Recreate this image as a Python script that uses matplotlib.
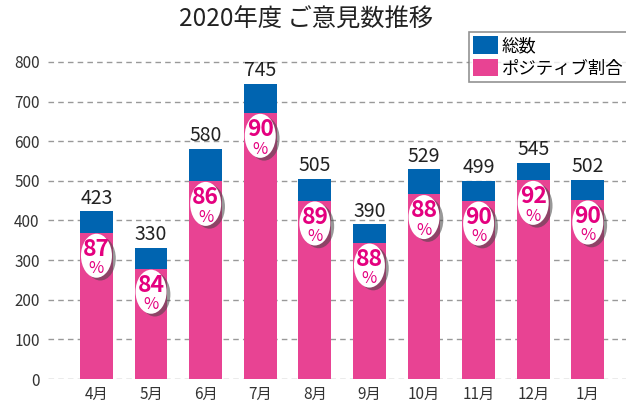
import matplotlib
matplotlib.use("Agg")
import matplotlib.pyplot as plt
from matplotlib.patches import Ellipse, Patch

plt.rcParams['font.family'] = ['Noto Sans CJK JP', 'DejaVu Sans']

months = ['4月', '5月', '6月', '7月', '8月', '9月', '10月', '11月', '12月', '1月']
totals = [423, 330, 580, 745, 505, 390, 529, 499, 545, 502]
positive_pct = [87, 84, 86, 90, 89, 88, 88, 90, 92, 90]
y_ticks = [0, 100, 200, 300, 400, 500, 600, 700, 800]

BLUE = '#0064B0'
PINK = '#E84393'
TXT_PINK = '#E4007F'

W, H = 626, 405
fig = plt.figure(figsize=(W / 100, H / 100), dpi=100)
ax = fig.add_axes([48 / W, 26 / H, 578 / W, 325 / H])

x = list(range(len(months)))
positives = [t * p / 100 for t, p in zip(totals, positive_pct)]

ax.bar(x, totals, width=0.6, color=BLUE, zorder=2)
ax.bar(x, positives, width=0.6, color=PINK, zorder=3)

ax.set_xlim(-0.888, 9.70)
ax.set_ylim(0, 820)
ax.set_yticks(y_ticks)
ax.set_xticks(x)
ax.set_xticklabels(months, fontsize=11, color='#333333')
ax.tick_params(axis='y', labelsize=11, colors='#333333', length=0, pad=6)
ax.tick_params(axis='x', length=0, pad=5)
for s in ax.spines.values():
    s.set_visible(False)
ax.yaxis.grid(True, linestyle=(0, (4, 3)), color='#999999', linewidth=1, zorder=0)
ax.set_axisbelow(True)

for xi, t in zip(x, totals):
    ax.annotate(str(t), (xi, t), xytext=(0, 2), textcoords='offset points',
                ha='center', va='bottom', fontsize=14, color='#222222', zorder=5)

ew = 31 / 54.6
eh = 44 / 39.625 * 100
for xi, pv, pc in zip(x, positives, positive_pct):
    cy = pv - 57
    sh = Ellipse((xi + 0.07, cy - 7), ew, eh, facecolor='#444444', alpha=0.55,
                 edgecolor='none', zorder=4)
    ax.add_patch(sh)
    el = Ellipse((xi, cy), ew, eh, facecolor='white', edgecolor='none', zorder=5)
    ax.add_patch(el)
    ax.annotate(str(pc), (xi, cy), xytext=(0, 4.5), textcoords='offset points',
                ha='center', va='center', fontsize=16.5, fontweight='bold',
                color=TXT_PINK, zorder=6)
    ax.annotate('%', (xi, cy), xytext=(0, -9.5), textcoords='offset points',
                ha='center', va='center', fontsize=12,
                color=TXT_PINK, zorder=6)

fig.text(306 / W, 1 - 20 / H, '2020年度 ご意見数推移', ha='center', va='center',
         fontsize=17.5, color='#222222')

handles = [Patch(facecolor=BLUE, edgecolor='none', label='総数'),
           Patch(facecolor=PINK, edgecolor='none', label='ポジティブ割合')]
leg = fig.legend(handles=handles, loc='upper left', bbox_to_anchor=(469 / W, 1 - 32 / H),
                 fontsize=12.5, frameon=True, fancybox=False, edgecolor='#777777',
                 handlelength=1.4, handleheight=1.15, handletextpad=0.25,
                 borderpad=0.25, labelspacing=0.25, borderaxespad=0)
leg.get_frame().set_linewidth(1.2)

fig.savefig('out.png', dpi=100)
